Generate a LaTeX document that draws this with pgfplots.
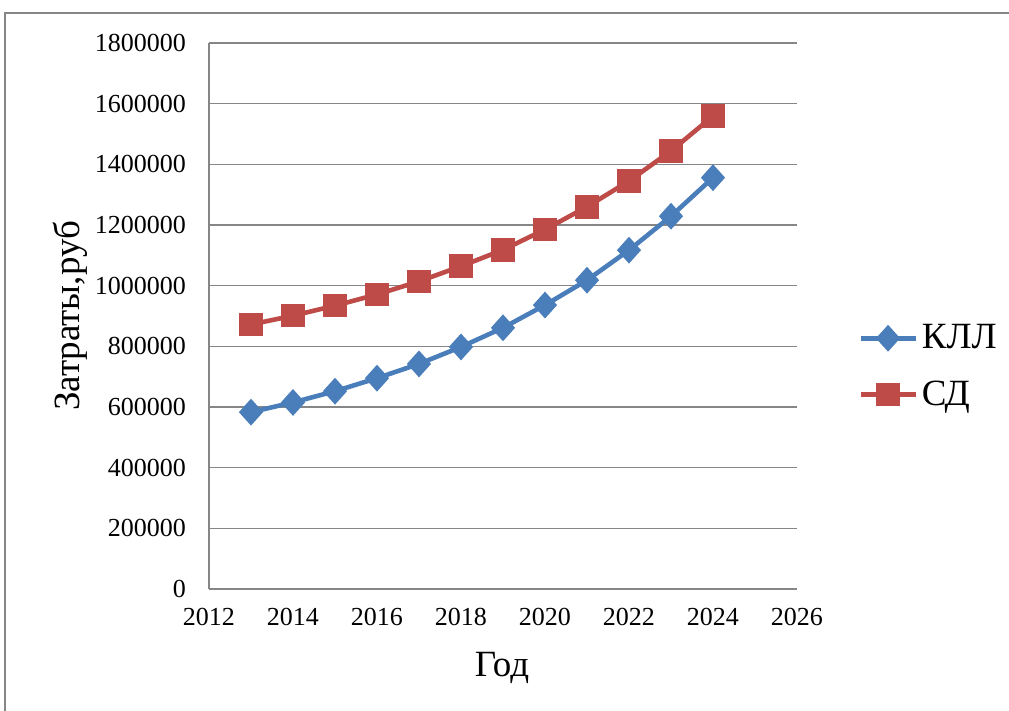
\documentclass[border=0pt]{standalone}
\usepackage{fontspec}
\setmainfont{Liberation Serif}
\usepackage{pgfplots}
\pgfplotsset{compat=1.18}

\definecolor{klblue}{HTML}{4A7EBB}
\definecolor{sdred}{HTML}{BE4B48}
\definecolor{gridgray}{HTML}{868686}

% Costs by year, roubles
\pgfplotstableread{
year  kll      sd
2013  583000   872000
2014  615000   901000
2015  652000   934000
2016  695000   971000
2017  742000   1014000
2018  798000   1064000
2019  861000   1118000
2020  936000   1185000
2021  1018000  1260000
2022  1117000  1345000
2023  1229000  1444000
2024  1356000  1559000
}\costs

\begin{document}
\begin{tikzpicture}[x=0.5pt,y=0.5pt]
\useasboundingbox (0,0) rectangle (1009,711);
% outer chart frame
\draw[gridgray, line width=1pt] (5,-20) -- (5,698) -- (1030,698);

\begin{axis}[
  at={(104.5pt,61pt)}, anchor=south west,
  scale only axis, width=294pt, height=273pt,
  xmin=2012, xmax=2026, ymin=0, ymax=1800000,
  xtick={2012,2014,...,2026},
  ytick={0,200000,...,1800000},
  scaled y ticks=false,
  /pgf/number format/assume math mode=true,
  xticklabel style={/pgf/number format/1000 sep={}, yshift=-6pt},
  yticklabel style={/pgf/number format/fixed, /pgf/number format/1000 sep={}, xshift=-8pt},
  tick label style={font=\fontsize{13}{15}\selectfont},
  axis x line*=bottom, axis y line*=left,
  axis line style={gridgray, line width=0.8pt, -},
  major tick length=0pt,
  ymajorgrids, grid style={gridgray, line width=0.8pt},
  legend style={at={(1.1035,0.4075)}, anchor=west, draw=none, fill=none,
    font=\fontsize{18.5}{20}\selectfont, row sep=10.5pt, inner sep=0pt},
  legend cell align=left,
  legend image code/.code={\draw[mark repeat=2,mark phase=2,#1]
    plot coordinates {(0pt,0pt) (13.75pt,0pt) (27.5pt,0pt)};},
]
\addplot[klblue, line width=2.3pt, mark=diamond*, mark size=5pt,
  mark options={solid, xscale=1.2}] table[x=year, y=kll] {\costs};
\addlegendentry{КЛЛ}
\addplot[sdred, line width=2.3pt, mark=square*, mark size=4.75pt,
  mark options={solid}] table[x=year, y=sd] {\costs};
\addlegendentry{СД}
\end{axis}

\node[rotate=90, anchor=base, font=\fontsize{18.5}{20}\selectfont] at (79,395) {Затраты,руб};
\node[anchor=base, font=\fontsize{18.5}{20}\selectfont] at (502,34) {Год};
\end{tikzpicture}
\end{document}
